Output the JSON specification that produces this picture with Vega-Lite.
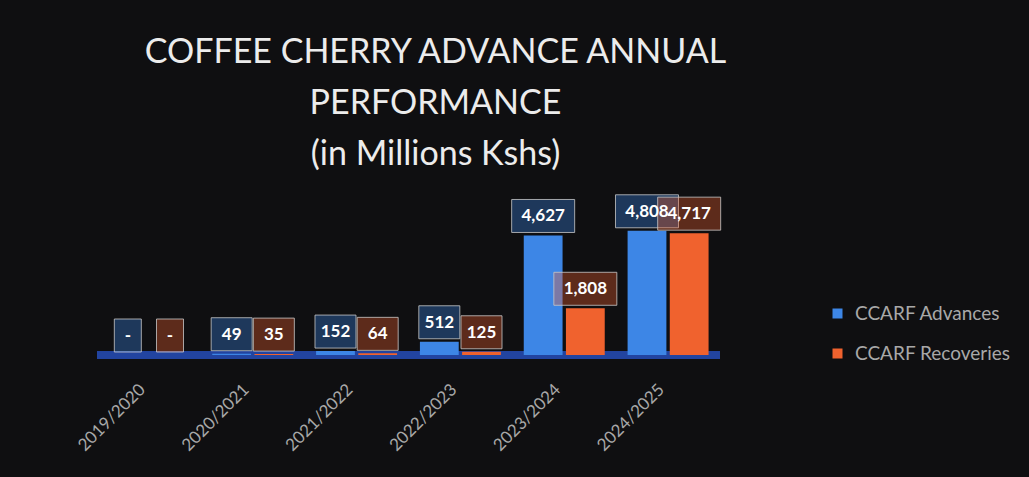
{
  "$schema": "https://vega.github.io/schema/vega-lite/v6.json",
  "autosize": {"type": "none"},
  "width": 623,
  "height": 155,
  "padding": {"left": 97, "top": 200, "right": 309, "bottom": 122},
  "background": "#0f0f11",
  "title": {
    "text": ["COFFEE CHERRY ADVANCE ANNUAL", "PERFORMANCE", "(in Millions Kshs)"],
    "font": "Lato",
    "fontSize": 34,
    "fontWeight": "normal",
    "color": "#ececec",
    "lineHeight": 51,
    "anchor": "middle",
    "dx": 27,
    "offset": 22
  },
  "data": {
    "values": [
      {"year": "2019/2020", "series": "CCARF Advances", "value": 0},
      {"year": "2019/2020", "series": "CCARF Recoveries", "value": 0},
      {"year": "2020/2021", "series": "CCARF Advances", "value": 49},
      {"year": "2020/2021", "series": "CCARF Recoveries", "value": 35},
      {"year": "2021/2022", "series": "CCARF Advances", "value": 152},
      {"year": "2021/2022", "series": "CCARF Recoveries", "value": 64},
      {"year": "2022/2023", "series": "CCARF Advances", "value": 512},
      {"year": "2022/2023", "series": "CCARF Recoveries", "value": 125},
      {"year": "2023/2024", "series": "CCARF Advances", "value": 4627},
      {"year": "2023/2024", "series": "CCARF Recoveries", "value": 1808},
      {"year": "2024/2025", "series": "CCARF Advances", "value": 4808},
      {"year": "2024/2025", "series": "CCARF Recoveries", "value": 4717}
    ]
  },
  "transform": [
    {"calculate": "datum.value == 0 ? '-' : format(datum.value, ',')", "as": "label"}
  ],
  "encoding": {
    "x": {
      "field": "year",
      "type": "nominal",
      "sort": null,
      "scale": {"paddingInner": 0.22, "paddingOuter": 0.11},
      "axis": {
        "title": null,
        "labelAngle": -45,
        "labelColor": "#a8a8a8",
        "labelFont": "Lato",
        "labelFontSize": 17,
        "labelPadding": 26,
        "labelOffset": -12,
        "domain": false,
        "ticks": false
      }
    },
    "xOffset": {"field": "series", "type": "nominal", "scale": {"paddingInner": 0.08}},
    "y": {
      "field": "value",
      "type": "quantitative",
      "scale": {"domain": [0, 6000]},
      "axis": null
    },
    "color": {
      "field": "series",
      "type": "nominal",
      "scale": {"domain": ["CCARF Advances", "CCARF Recoveries"], "range": ["#3d86e6", "#f0622e"]},
      "legend": {
        "title": null,
        "orient": "none",
        "legendX": 731,
        "legendY": 104,
        "symbolType": "square",
        "symbolSize": 100,
        "labelColor": "#a8a8a8",
        "labelFont": "Lato",
        "labelFontSize": 19,
        "labelOffset": 8,
        "rowPadding": 20,
        "encode": {"symbols": {"update": {"fillOpacity": {"value": 1}, "opacity": {"value": 1}, "strokeWidth": {"value": 0}}}}
      }
    }
  },
  "layer": [
    {
      "mark": {"type": "rule", "color": "#2244a0", "strokeWidth": 7},
      "encoding": {"x": null, "xOffset": null, "color": null, "y": {"datum": 0, "type": "quantitative"}}
    },
    {
      "mark": {"type": "bar"}
    },
    {
      "transform": [{"filter": "datum.value < 10"}],
      "mark": {"type": "bar", "width": 27, "yOffset": -3, "y2Offset": -36, "fillOpacity": 0.35, "stroke": "#c8c8c8", "strokeOpacity": 0.8, "strokeWidth": 1},
      "encoding": {"y2": {"field": "value"}}
    },
    {
      "transform": [{"filter": "datum.value >= 10 && datum.value < 1000"}],
      "mark": {"type": "bar", "width": 41, "yOffset": -3, "y2Offset": -36, "fillOpacity": 0.35, "stroke": "#c8c8c8", "strokeOpacity": 0.8, "strokeWidth": 1},
      "encoding": {"y2": {"field": "value"}}
    },
    {
      "transform": [{"filter": "datum.value >= 1000"}],
      "mark": {"type": "bar", "width": 63, "yOffset": -3, "y2Offset": -36, "fillOpacity": 0.35, "stroke": "#c8c8c8", "strokeOpacity": 0.8, "strokeWidth": 1},
      "encoding": {"y2": {"field": "value"}}
    },
    {
      "mark": {"type": "text", "yOffset": -19, "font": "Lato", "fontSize": 17, "fontWeight": "bold", "color": "#ffffff", "baseline": "middle"},
      "encoding": {"text": {"field": "label"}, "color": null}
    }
  ],
  "config": {"view": {"stroke": null}}
}
